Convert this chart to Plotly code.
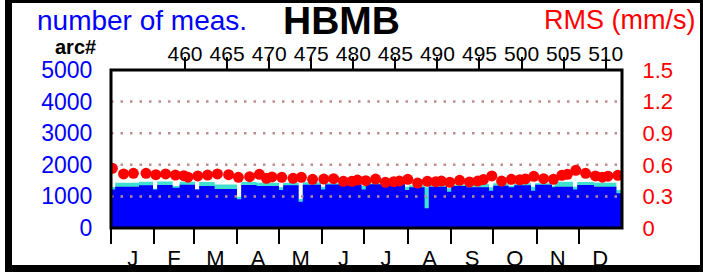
import plotly.graph_objects as go

# ---------------- data ----------------
# daily step segments of number of measurements (start day of year)
seg_start = [0, 3, 20, 30, 33, 44, 49, 60, 63, 74, 90, 93, 104, 120, 123, 134, 137, 150, 153,
             179, 182, 210, 213, 224, 227, 240, 243, 254, 270, 273, 284, 288, 300, 303, 315,
             317, 330, 333, 345, 361]
seg_blue = [1220, 1308, 1350, 1220, 1360, 1276, 1370, 1220, 1330, 1234, 908, 1361, 1329, 1203,
            1350, 834, 1370, 1220, 1380, 1220, 1382, 1203, 1290, 623, 1308, 1150, 1330, 1290,
            1180, 1340, 1287, 1350, 1180, 1370, 1290, 1308, 1220, 1361, 1308, 1100]
seg_total = [1300, 1434, 1466, 1240, 1475, 1330, 1466, 1230, 1455, 1375, 990, 1455, 1434, 1290,
             1434, 918, 1445, 1308, 1420, 1329, 1413, 1308, 1350, 1287, 1361, 1255, 1370, 1390,
             1287, 1413, 1340, 1413, 1308, 1413, 1340, 1466, 1308, 1455, 1434, 1203]
year_end = 365

# RMS (mm/s) dots
rms_day = [1, 9, 16, 25, 32, 39, 46, 52, 55, 62, 69, 76, 84, 91, 99, 106, 111, 115, 122, 130,
           136, 144, 152, 159, 166, 172, 176, 182, 189, 196, 202, 206, 212, 219, 226, 232, 236,
           242, 249, 256, 262, 266, 272, 279, 286, 292, 296, 302, 309, 316, 322, 326, 332, 339,
           346, 351, 355, 362]
rms_val = [.567, .513, .519, .519, .506, .513, .503, .497, .482, .494, .503, .513, .506, .481,
           .487, .510, .472, .485, .481, .472, .481, .462, .465, .468, .443, .443, .455, .449,
           .465, .434, .440, .446, .462, .427, .443, .440, .446, .434, .453, .437, .446, .460,
           .494, .446, .462, .458, .466, .491, .468, .462, .500, .510, .548, .519, .494, .482,
           .492, .500]

month_start = [0, 31, 59, 90, 120, 151, 181, 212, 243, 273, 304, 334]
month_mid = [15.5, 45, 74.5, 105, 135.5, 166, 196.5, 227.5, 258, 288.5, 319, 349.5]
month_lbl = ["J", "F", "M", "A", "M", "J", "J", "A", "S", "O", "N", "D"]

arc_ticks = [460, 465, 470, 475, 480, 485, 490, 495, 500, 505, 510]
arc_range = [451.2, 511.94]

left_ticks = [0, 1000, 2000, 3000, 4000, 5000]
right_ticks = [0, 0.3, 0.6, 0.9, 1.2, 1.5]
right_text = ["0", "0.3", "0.6", "0.9", "1.2", "1.5"]
grid_vals = [0.3, 0.6, 0.9, 1.2]

# ---------------- figure ----------------
W, H = 703, 272
ML, MR, MT, MB = 111, 81, 70, 44
PW, PH = W - ML - MR, H - MT - MB

def px_x(px):
    return (px - ML) / PW

def px_y(py):
    return (H - MB - py) / PH

FONT = "Liberation Sans, Arial, sans-serif"
BLUE = "#0000ff"
RED = "#ff0000"
CYAN = "#40e0d0"

xs = seg_start + [year_end]
fig = go.Figure()
fig.add_trace(go.Scatter(x=xs, y=seg_total + [seg_total[-1]], mode="lines",
                         line=dict(width=0, shape="hv"), fill="tozeroy",
                         fillcolor=CYAN, hoverinfo="skip", showlegend=False))
fig.add_trace(go.Scatter(x=xs, y=seg_blue + [seg_blue[-1]], mode="lines",
                         line=dict(width=0, shape="hv"), fill="tozeroy",
                         fillcolor=BLUE, hoverinfo="skip", showlegend=False))
for g in grid_vals:
    fig.add_trace(go.Scatter(x=[0, year_end], y=[g, g], yaxis="y2", mode="lines",
                             line=dict(color="#bc8f8f", width=2.5, dash="2.5px,7px"),
                             hoverinfo="skip", showlegend=False))
fig.add_trace(go.Scatter(x=rms_day, y=rms_val, yaxis="y2", mode="markers",
                         marker=dict(size=11, color=RED, line=dict(width=0)),
                         showlegend=False))
fig.add_trace(go.Scatter(x=arc_ticks, y=[None] * len(arc_ticks), xaxis="x2", yaxis="y",
                         mode="markers", hoverinfo="skip", showlegend=False))

fig.update_layout(
    width=W, height=H, autosize=False,
    margin=dict(l=ML, r=MR, t=MT, b=MB, pad=0, autoexpand=False),
    paper_bgcolor="white", plot_bgcolor="white",
    font=dict(family=FONT, color="black"),
    xaxis=dict(range=[0, year_end], tickmode="array", tickvals=month_mid, ticktext=month_lbl,
               ticks="outside", ticklen=11, tickcolor="rgba(0,0,0,0)",
               tickfont=dict(size=22, color="black"),
               minor=dict(tickmode="array", tickvals=month_start, ticks="outside",
                          ticklen=15, tickwidth=2, tickcolor="black", showgrid=False),
               showgrid=False, zeroline=False, showline=False, fixedrange=True,
               automargin=False),
    xaxis2=dict(overlaying="x", side="top", anchor="y", range=arc_range,
                tickmode="array", tickvals=arc_ticks, ticks="outside", ticklen=12,
                tickwidth=2, tickcolor="black", tickfont=dict(size=21, color="black"),
                ticklabelstandoff=-12,
                showgrid=False, zeroline=False, showline=False, automargin=False),
    yaxis=dict(range=[0, 5000], tickmode="array", tickvals=left_ticks, ticks="outside",
               ticklen=13, tickcolor="rgba(0,0,0,0)", tickfont=dict(size=23, color=BLUE),
               showgrid=False, zeroline=False, showline=False, automargin=False),
    yaxis2=dict(overlaying="y", side="right", range=[0, 1.5], tickmode="array",
                tickvals=right_ticks, ticktext=right_text, ticks="outside", ticklen=15,
                tickcolor="rgba(0,0,0,0)", tickfont=dict(size=22, color=RED),
                showgrid=False, zeroline=False, showline=False, automargin=False),
    shapes=[
        dict(type="rect", xref="paper", yref="paper", x0=0, x1=1, y0=0, y1=1,
             line=dict(color="black", width=3), layer="above"),
        dict(type="rect", xref="paper", yref="paper", x0=px_x(8.5), x1=px_x(703.5),
             y0=px_y(268.5), y1=px_y(-0.5), line=dict(color="black", width=7), layer="above"),
    ],
    annotations=[
        dict(text="number of meas.", xref="paper", yref="paper", x=px_x(35), y=px_y(21),
             xanchor="left", yanchor="middle", showarrow=False,
             font=dict(size=28, color=BLUE, family=FONT)),
        dict(text="<b>HBMB</b>", xref="paper", yref="paper", x=px_x(341), y=px_y(21),
             xanchor="center", yanchor="middle", showarrow=False,
             font=dict(size=39, color="black", family=FONT)),
        dict(text="RMS (mm/s)", xref="paper", yref="paper", x=px_x(542), y=px_y(20),
             xanchor="left", yanchor="middle", showarrow=False,
             font=dict(size=27, color=RED, family=FONT)),
        dict(text="<b>arc#</b>", xref="paper", yref="paper", x=px_x(75), y=px_y(47.5),
             xanchor="center", yanchor="middle", showarrow=False,
             font=dict(size=20, color="black", family=FONT)),
    ],
)

fig.write_html("out.html", config={"displayModeBar": False, "staticPlot": True},
               post_script="document.body.style.margin='0';document.body.style.padding='0';"
                           "document.body.style.overflow='hidden';")
